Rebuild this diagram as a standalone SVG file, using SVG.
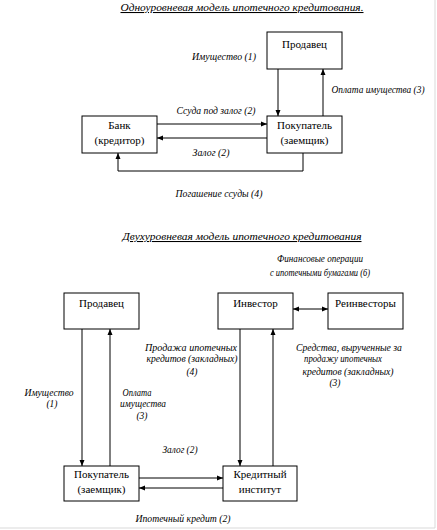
<svg xmlns="http://www.w3.org/2000/svg" width="437" height="530" viewBox="0 0 437 530" font-family="'Liberation Serif', 'DejaVu Serif', serif">
<style>
.box{fill:#fff;stroke:#000;stroke-width:1}
.nt{font-size:11px;text-anchor:middle;fill:#000}
.lb{font-size:9.5px;font-style:italic;text-anchor:middle;fill:#000}
.tt{font-size:10.5px;font-style:italic;text-anchor:middle;fill:#000;text-decoration:underline}
.ln{fill:none;stroke:#000;stroke-width:1}
</style>
<defs>
<marker id="ah" viewBox="0 0 6 6" refX="6" refY="3" markerWidth="6" markerHeight="6" orient="auto" markerUnits="userSpaceOnUse">
<path d="M0,0.5 L6,3 L0,5.5 Z" fill="#000"/>
</marker>
<marker id="as" viewBox="0 0 6 6" refX="0" refY="3" markerWidth="6" markerHeight="6" orient="auto" markerUnits="userSpaceOnUse">
<path d="M6,0.5 L0,3 L6,5.5 Z" fill="#000"/>
</marker>
</defs>
<rect width="437" height="530" fill="#fff"/>
<line x1="435" y1="0" x2="435" y2="528" stroke="#d9d9d9" stroke-width="1"/>
<line x1="0" y1="528" x2="435" y2="528" stroke="#d9d9d9" stroke-width="1"/>

<text class="tt" x="242" y="11" textLength="243" lengthAdjust="spacingAndGlyphs">Одноуровневая модель ипотечного кредитования.</text>
<text class="tt" x="242" y="240" textLength="239" lengthAdjust="spacingAndGlyphs">Двухуровневая модель ипотечного кредитования</text>

<g id="connectors">
<line class="ln" x1="278" y1="69" x2="278" y2="116" marker-end="url(#ah)"/>
<line class="ln" x1="323" y1="116" x2="323" y2="69" marker-end="url(#ah)"/>
<line class="ln" x1="157" y1="124" x2="267" y2="124" marker-end="url(#ah)"/>
<line class="ln" x1="267" y1="138" x2="157" y2="138" marker-end="url(#ah)"/>
<polyline class="ln" points="303,153 303,171 118,171 118,153" marker-end="url(#ah)"/>

<line class="ln" x1="293" y1="309" x2="328" y2="309" marker-start="url(#as)" marker-end="url(#ah)"/>
<line class="ln" x1="82" y1="329" x2="82" y2="466" marker-end="url(#ah)"/>
<line class="ln" x1="110" y1="466" x2="110" y2="329" marker-end="url(#ah)"/>
<line class="ln" x1="240" y1="329" x2="240" y2="466" marker-end="url(#ah)"/>
<line class="ln" x1="273" y1="466" x2="273" y2="329" marker-end="url(#ah)"/>
<line class="ln" x1="139" y1="478" x2="223" y2="478" marker-end="url(#ah)"/>
<line class="ln" x1="223" y1="488" x2="139" y2="488" marker-end="url(#ah)"/>
</g>

<g id="labels">
<text class="lb" x="224" y="60" textLength="64" lengthAdjust="spacingAndGlyphs">Имущество (1)</text>
<text class="lb" x="378" y="93" textLength="93" lengthAdjust="spacingAndGlyphs">Оплата имущества (3)</text>
<text class="lb" x="216" y="114" textLength="79" lengthAdjust="spacingAndGlyphs">Ссуда под залог (2)</text>
<text class="lb" x="211" y="156" textLength="37" lengthAdjust="spacingAndGlyphs">Залог (2)</text>
<text class="lb" x="219" y="197" textLength="87" lengthAdjust="spacingAndGlyphs">Погашение ссуды (4)</text>

<text class="lb" x="320" y="262" textLength="86" lengthAdjust="spacingAndGlyphs">Финансовые операции</text>
<text class="lb" x="320" y="276" textLength="100" lengthAdjust="spacingAndGlyphs">с ипотечными бумагами (6)</text>

<text class="lb" x="191" y="351" textLength="92" lengthAdjust="spacingAndGlyphs">Продажа ипотечных</text>
<text class="lb" x="192" y="362" textLength="91" lengthAdjust="spacingAndGlyphs">кредитов (закладных)</text>
<text class="lb" x="192" y="375">(4)</text>

<text class="lb" x="349" y="351" textLength="106" lengthAdjust="spacingAndGlyphs">Средства, вырученные за</text>
<text class="lb" x="343" y="362" textLength="78" lengthAdjust="spacingAndGlyphs">продажу ипотечных</text>
<text class="lb" x="348" y="375" textLength="91" lengthAdjust="spacingAndGlyphs">кредитов (закладных)</text>
<text class="lb" x="335" y="386">(3)</text>

<text class="lb" x="49" y="396" textLength="49" lengthAdjust="spacingAndGlyphs">Имущество</text>
<text class="lb" x="52" y="407">(1)</text>
<text class="lb" x="137" y="396" textLength="29" lengthAdjust="spacingAndGlyphs">Оплата</text>
<text class="lb" x="143" y="407" textLength="46" lengthAdjust="spacingAndGlyphs">имущества</text>
<text class="lb" x="142" y="419">(3)</text>

<text class="lb" x="180" y="453" textLength="35" lengthAdjust="spacingAndGlyphs">Залог (2)</text>
<text class="lb" x="183" y="522" textLength="95" lengthAdjust="spacingAndGlyphs">Ипотечный кредит (2)</text>
</g>

<g id="n-seller1">
<rect class="box" x="267" y="32" width="75" height="37"/>
<text class="nt" x="304.5" y="48">Продавец</text>
</g>
<g id="n-bank">
<rect class="box" x="82" y="116" width="75" height="37"/>
<text class="nt" x="119.5" y="129">Банк</text>
<text class="nt" x="119.5" y="144">(кредитор)</text>
</g>
<g id="n-buyer1">
<rect class="box" x="267" y="116" width="75" height="37"/>
<text class="nt" x="304.5" y="129">Покупатель</text>
<text class="nt" x="304.5" y="144">(заемщик)</text>
</g>

<g id="n-seller2">
<rect class="box" x="64" y="293" width="75" height="36"/>
<text class="nt" x="101.5" y="307">Продавец</text>
</g>
<g id="n-investor">
<rect class="box" x="218" y="293" width="75" height="36"/>
<text class="nt" x="255.5" y="307">Инвестор</text>
</g>
<g id="n-reinvestors">
<rect class="box" x="328" y="293" width="75" height="36"/>
<text class="nt" x="365.5" y="307">Реинвесторы</text>
</g>
<g id="n-buyer2">
<rect class="box" x="64" y="466" width="75" height="35"/>
<text class="nt" x="101.5" y="478">Покупатель</text>
<text class="nt" x="101.5" y="493">(заемщик)</text>
</g>
<g id="n-credit">
<rect class="box" x="223" y="466" width="74" height="35"/>
<text class="nt" x="260" y="478">Кредитный</text>
<text class="nt" x="260" y="493">институт</text>
</g>
</svg>
